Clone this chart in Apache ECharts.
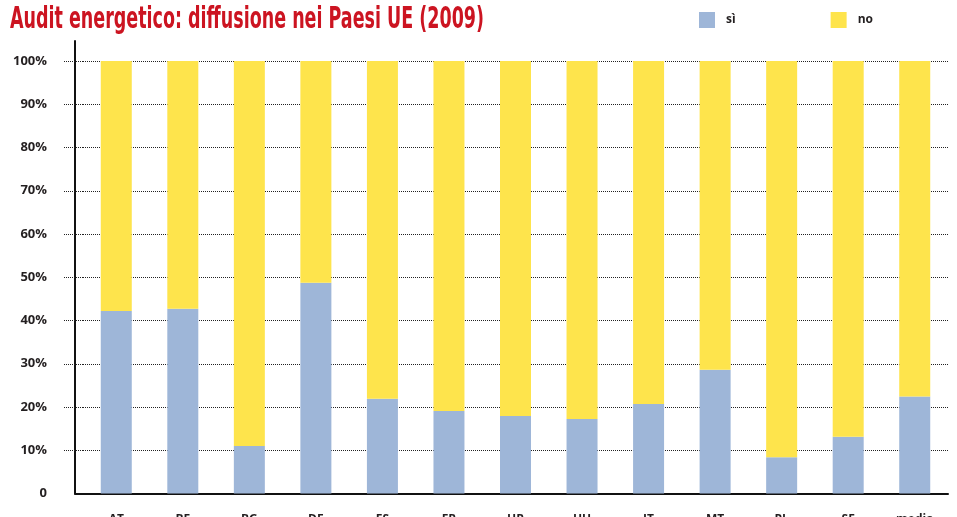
<!DOCTYPE html>
<html>
<head>
<meta charset="utf-8">
<script src="https://cdn.jsdelivr.net/npm/echarts@6/dist/echarts.min.js"></script>
<style>
  html, body { margin: 0; padding: 0; background: #fff; }
  #container { width: 957px; height: 517px; }
</style>
</head>
<body>
<div id="container"></div>
<script>
var dom = document.getElementById('container');
var myChart = echarts.init(dom, null, { renderer: 'canvas' });

// paesi e media UE
const categories = ['AT', 'BE', 'BG', 'DE', 'ES', 'FR', 'HR', 'HU', 'IT', 'MT', 'PL', 'SE', 'media'];
// quota imprese con audit energetico (%)
const siValues = [42.2, 42.7, 11.0, 48.7, 21.9, 19.1, 17.9, 17.2, 20.7, 28.6, 8.4, 13.1, 22.4];
const noValues = [57.8, 57.3, 89.0, 51.3, 78.1, 80.9, 82.1, 82.8, 79.3, 71.4, 91.6, 86.9, 77.6];
const seriesNames = ['sì', 'no'];
const yTicks = [10, 20, 30, 40, 50, 60, 70, 80, 90, 100];

const titleText = 'Audit energetico: diffusione nei Paesi UE (2009)';
const colorSi = '#9eb6d8';
const colorNo = '#fee44c';
const textColor = '#231f20';
const labelFont = "'Open Sans', sans-serif";
const titleFont = "bold 31px 'DejaVu Sans Condensed', 'Liberation Sans Narrow', sans-serif";

// il titolo originale usa un carattere molto stretto: lo comprimo in orizzontale
var ctx = document.createElement('canvas').getContext('2d');
ctx.font = titleFont;
var titleScale = 474 / ctx.measureText(titleText).width;

var option = {
  animation: false,
  backgroundColor: '#fff',
  legend: {
    data: seriesNames,
    left: 699,
    top: 12,
    padding: 0,
    itemWidth: 16,
    itemHeight: 16,
    itemGap: 95,
    icon: 'rect',
    textStyle: {
      fontFamily: labelFont,
      fontWeight: 'bold',
      fontSize: 12,
      color: textColor,
      padding: [0, 0, 0, 6]
    }
  },
  grid: [
    { left: 83, right: 9, top: 61, bottom: 23.5, outerBoundsMode: 'none', containLabel: false },
    // solo per le linee degli assi
    { left: 75, right: 9, top: 41, bottom: 23.5, outerBoundsMode: 'none', containLabel: false }
  ],
  xAxis: [
    {
      type: 'category',
      gridIndex: 0,
      data: categories,
      axisLine: { show: false },
      axisTick: { show: false },
      axisLabel: {
        margin: 20,
        fontFamily: labelFont,
        fontWeight: 'bold',
        fontSize: 12,
        color: textColor
      }
    },
    {
      type: 'value',
      gridIndex: 1,
      min: 0,
      max: 1,
      axisLine: { show: true, lineStyle: { color: '#111', width: 2 } },
      axisTick: { show: false },
      axisLabel: { show: false },
      splitLine: { show: false }
    }
  ],
  yAxis: [
    {
      type: 'value',
      gridIndex: 0,
      min: 0,
      max: 100,
      interval: 10,
      axisLine: { show: false },
      axisTick: {
        show: true,
        length: 20,
        customValues: yTicks,
        lineStyle: { color: '#222', width: 1, type: 'dotted' }
      },
      splitLine: {
        lineStyle: { color: '#222', width: 1, type: 'dotted' }
      },
      axisLabel: {
        margin: 36,
        fontFamily: labelFont,
        fontWeight: 'bold',
        fontSize: 13,
        color: textColor,
        formatter: function (v) { return v === 0 ? '0' : v + '%'; }
      }
    },
    {
      type: 'value',
      gridIndex: 1,
      min: 0,
      max: 1,
      axisLine: { show: true, lineStyle: { color: '#111', width: 2 } },
      axisTick: { show: false },
      axisLabel: { show: false },
      splitLine: { show: false }
    }
  ],
  graphic: [
    {
      type: 'text',
      left: 10,
      top: 4,
      scaleX: titleScale,
      style: {
        text: titleText,
        font: titleFont,
        fill: '#cc1421'
      }
    }
  ],
  series: [
    {
      name: seriesNames[0],
      type: 'bar',
      stack: 'tot',
      barWidth: 31,
      itemStyle: { color: colorSi },
      data: siValues
    },
    {
      name: seriesNames[1],
      type: 'bar',
      stack: 'tot',
      barWidth: 31,
      itemStyle: { color: colorNo },
      data: noValues
    }
  ]
};

myChart.setOption(option);
window.addEventListener('resize', myChart.resize);
</script>
</body>
</html>
